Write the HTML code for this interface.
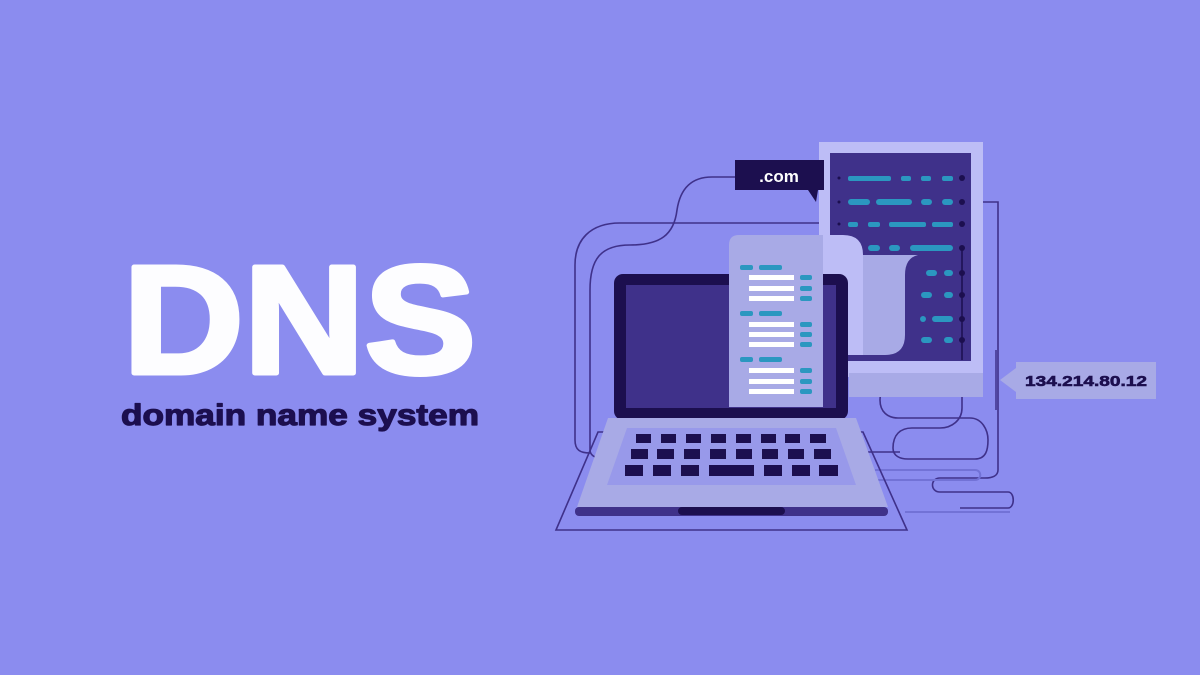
<!DOCTYPE html>
<html><head><meta charset="utf-8"><style>
html,body{margin:0;padding:0;background:#8b8cef;}
svg{display:block}
</style></head><body>
<svg width="1200" height="675" viewBox="0 0 1200 675" xmlns="http://www.w3.org/2000/svg">
<rect width="1200" height="675" fill="#8b8cef"/>
<text x="123" y="373" font-family="Liberation Sans, sans-serif" font-weight="bold" font-size="154" fill="#fdfdff" stroke="#fdfdff" stroke-width="5" stroke-linejoin="round" textLength="353" lengthAdjust="spacingAndGlyphs">DNS</text>
<text x="121" y="425" font-family="Liberation Sans, sans-serif" font-weight="bold" font-size="30" fill="#1c0f4f" stroke="#1c0f4f" stroke-width="1.2" stroke-linejoin="round" textLength="358" lengthAdjust="spacingAndGlyphs">domain name system</text>

<!-- wires behind -->
<g fill="none" stroke="#3f318a" stroke-width="1.6">
<path d="M735,177 L712,177 C690,177 680,190 677,210 C674,235 660,245 630,245 C600,245 590,260 590,290 L590,450 C590,455 595,458 600,458"/>
<path d="M838,223 L620,223 C590,223 575,240 575,265 L575,440 C575,450 580,453 590,453"/>
<path d="M962,202 L998,202 L998,470 C998,476 992,478 985,478 L940,478 C930,478 930,492 940,492 L1008,492 C1015,492 1015,508 1008,508 L960,508"/>
<path d="M962,248 L962,360 C962,376 950,383 935,383 L895,383 C882,383 880,395 880,400 C880,412 888,418 898,418 L950,418"/>
<path d="M962,360 L962,408 C962,420 952,428 940,428 L912,428 C900,428 893,435 893,448 C893,456 900,459 908,459 L975,459 C986,459 988,450 988,440 C988,430 982,418 970,418 L950,418"/>
<path d="M900,452 L865,452"/>
</g>
<g fill="none" stroke="#7272d6" stroke-width="2">
<path d="M875,470 L975,470 C982,470 982,480 975,480 L870,480"/>
<path d="M905,512 L1010,512"/>
</g>

<!-- server -->
<rect x="819" y="142" width="164" height="235" fill="#bdbdf6"/>
<rect x="849" y="373" width="134" height="24" fill="#a8aae6"/>
<rect x="830" y="153" width="141" height="208" fill="#3f318a"/>
<g fill="#2b97c0">
<rect x="848" y="176" width="43" height="5" rx="2"/><rect x="901" y="176" width="10" height="5" rx="2"/><rect x="921" y="176" width="10" height="5" rx="2"/><rect x="942" y="176" width="11" height="5" rx="2"/>
<rect x="848" y="199" width="22" height="6" rx="3"/><rect x="876" y="199" width="36" height="6" rx="3"/><rect x="921" y="199" width="11" height="6" rx="3"/><rect x="942" y="199" width="11" height="6" rx="3"/>
<rect x="848" y="222" width="10" height="5" rx="2"/><rect x="868" y="222" width="12" height="5" rx="2"/><rect x="889" y="222" width="37" height="5" rx="2"/><rect x="932" y="222" width="21" height="5" rx="2"/>
<rect x="868" y="245" width="12" height="6" rx="3"/><rect x="889" y="245" width="11" height="6" rx="3"/><rect x="910" y="245" width="43" height="6" rx="3"/>
<rect x="926" y="270" width="11" height="6" rx="3"/><rect x="944" y="270" width="9" height="6" rx="3"/>
<rect x="921" y="292" width="11" height="6" rx="3"/><rect x="944" y="292" width="9" height="6" rx="3"/>
<rect x="920" y="316" width="6" height="6" rx="3"/><rect x="932" y="316" width="21" height="6" rx="3"/>
<rect x="921" y="337" width="11" height="6" rx="3"/><rect x="944" y="337" width="9" height="6" rx="3"/>
</g>
<g fill="#1c0f4f">
<circle cx="962" cy="178" r="3"/><circle cx="962" cy="202" r="3"/><circle cx="962" cy="224" r="3"/><circle cx="962" cy="248" r="3"/><circle cx="962" cy="273" r="3"/><circle cx="962" cy="295" r="3"/><circle cx="962" cy="319" r="3"/><circle cx="962" cy="340" r="3"/>
<circle cx="839" cy="178" r="1.5"/><circle cx="839" cy="202" r="1.5"/><circle cx="839" cy="224" r="1.5"/>
</g>
<line x1="962" y1="248" x2="962" y2="360" stroke="#1c0f4f" stroke-width="1.5"/>

<!-- curl -->
<path d="M863,255 L918,255 Q905,258 905,275 L905,335 Q905,355 885,355 L863,355 Z" fill="#a8aae6"/>
<path d="M823,235 L843,235 Q863,235 863,255 L863,355 L845,355 Q823,355 823,335 Z" fill="#bdbdf6"/>

<!-- .com bubble -->
<path d="M735,160 L824,160 L824,190 L818,190 L816,202 L808,190 L735,190 Z" fill="#1c0f4f"/>
<text x="779" y="182" text-anchor="middle" font-family="Liberation Sans, sans-serif" font-weight="bold" font-size="17" fill="#fff">.com</text>

<!-- outline trapezoid -->
<path d="M608,432 L598,432 L556,530 L907,530 L863,432 L855,432" fill="none" stroke="#3f318a" stroke-width="1.6"/>

<!-- laptop -->
<rect x="614" y="274" width="234" height="146" rx="9" fill="#1c0f4f"/>
<rect x="626" y="285" width="210" height="123" fill="#3f318a"/>
<path d="M608,418 L856,418 L888,507 L577,507 Z" fill="#a8aae6"/>
<path d="M627,428 L836,428 L856,485 L607,485 Z" fill="#9899ea"/>
<g fill="#1c0f4f">
<rect x="636" y="434" width="15" height="9"/><rect x="661" y="434" width="15" height="9"/><rect x="686" y="434" width="15" height="9"/><rect x="711" y="434" width="15" height="9"/><rect x="736" y="434" width="15" height="9"/><rect x="761" y="434" width="15" height="9"/><rect x="785" y="434" width="15" height="9"/><rect x="810" y="434" width="16" height="9"/>
<rect x="631" y="449" width="17" height="10"/><rect x="657" y="449" width="17" height="10"/><rect x="684" y="449" width="16" height="10"/><rect x="710" y="449" width="16" height="10"/><rect x="736" y="449" width="16" height="10"/><rect x="762" y="449" width="16" height="10"/><rect x="788" y="449" width="16" height="10"/><rect x="814" y="449" width="17" height="10"/>
<rect x="625" y="465" width="18" height="11"/><rect x="653" y="465" width="18" height="11"/><rect x="681" y="465" width="18" height="11"/><rect x="709" y="465" width="45" height="11"/><rect x="764" y="465" width="18" height="11"/><rect x="792" y="465" width="18" height="11"/><rect x="819" y="465" width="19" height="11"/>
</g>
<rect x="575" y="507" width="313" height="9" rx="4" fill="#3f318a"/>
<rect x="678" y="507" width="107" height="8" rx="4" fill="#1c0f4f"/>

<!-- paper -->
<path d="M739,235 L823,235 L823,407 L729,407 L729,245 Q729,235 739,235 Z" fill="#a8aae6"/>
<g fill="#2b97c0">
<rect x="740" y="265" width="13" height="5" rx="2"/><rect x="759" y="265" width="23" height="5" rx="2"/>
<rect x="740" y="311" width="13" height="5" rx="2"/><rect x="759" y="311" width="23" height="5" rx="2"/>
<rect x="740" y="357" width="13" height="5" rx="2"/><rect x="759" y="357" width="23" height="5" rx="2"/>
<rect x="800" y="275" width="12" height="5" rx="2"/><rect x="800" y="286" width="12" height="5" rx="2"/><rect x="800" y="296" width="12" height="5" rx="2"/>
<rect x="800" y="322" width="12" height="5" rx="2"/><rect x="800" y="332" width="12" height="5" rx="2"/><rect x="800" y="342" width="12" height="5" rx="2"/>
<rect x="800" y="368" width="12" height="5" rx="2"/><rect x="800" y="379" width="12" height="5" rx="2"/><rect x="800" y="389" width="12" height="5" rx="2"/>
</g>
<g fill="#ffffff">
<rect x="749" y="275" width="45" height="5"/><rect x="749" y="286" width="45" height="5"/><rect x="749" y="296" width="45" height="5"/>
<rect x="749" y="322" width="45" height="5"/><rect x="749" y="332" width="45" height="5"/><rect x="749" y="342" width="45" height="5"/>
<rect x="749" y="368" width="45" height="5"/><rect x="749" y="379" width="45" height="5"/><rect x="749" y="389" width="45" height="5"/>
</g>

<!-- IP label -->
<line x1="996" y1="350" x2="996" y2="410" stroke="#3f318a" stroke-width="1.5"/>
<path d="M1016,362 L1156,362 L1156,399 L1016,399 L1016,392 L1000,380 L1016,368 Z" fill="#a8aae6"/>
<text x="1086" y="386" text-anchor="middle" font-family="Liberation Sans, sans-serif" font-weight="bold" font-size="15" fill="#1c0f4f" stroke="#1c0f4f" stroke-width="0.6" textLength="122" lengthAdjust="spacingAndGlyphs">134.214.80.12</text>
</svg>
</body></html>
